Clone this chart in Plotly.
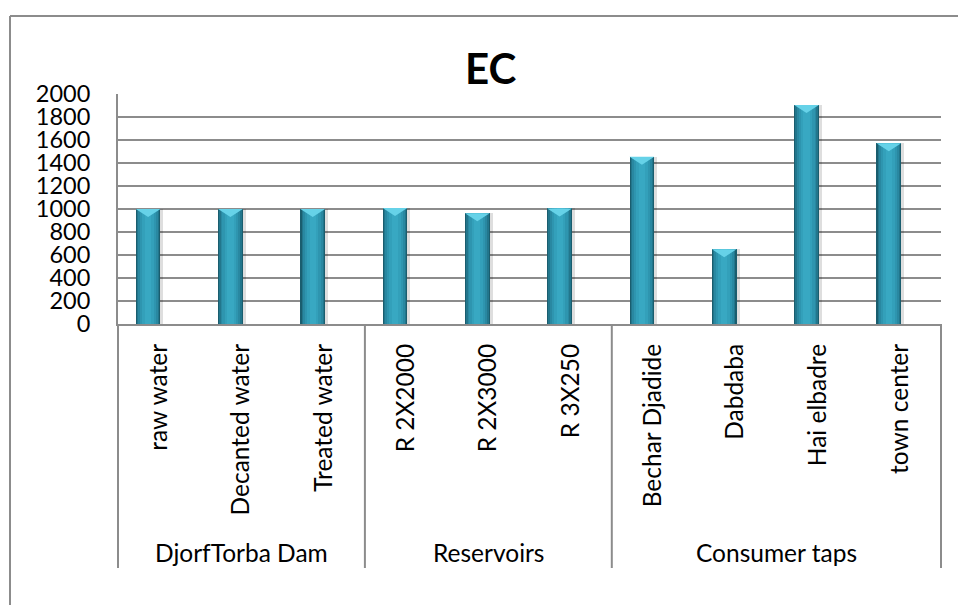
import numpy as np
import plotly.graph_objects as go

# ---- data -------------------------------------------------------------
groups = ["DjorfTorba Dam", "Reservoirs", "Consumer taps"]
group_sizes = [3, 3, 4]
categories = ["raw water", "Decanted water", "Treated water",
              "R 2X2000", "R 2X3000", "R 3X250",
              "Bechar Djadide", "Dabdaba", "Hai elbadre", "town center"]
ec_values = [1000, 1000, 1000, 1008, 962, 1005, 1455, 650, 1904, 1571]
y_ticks = list(range(0, 2001, 200))

# ---- layout geometry (pixels) ----------------------------------------
W, H = 958, 605
PL, PR, PT, PB = 118, 941, 94, 324          # plot area edges
FONT = "Lato"
GRID = "#8c8c8c"
LABEL_SIZE = 24.5


def px_x(px):
    return (px - PL) / (PR - PL)


def px_y(py):
    return (PB - py) / (PB - PT)


n = len(categories)
xc = np.arange(n) + 0.5
BAR_W = 0.30
SHIFT = 0.134                     # bars sit slightly left of the slot centre
Y_MAX = 2000
px_per_unit = (PB - PT) / Y_MAX

fig = go.Figure()

# soft drop shadow
fig.add_trace(go.Bar(
    x=xc, y=[v + 3 / px_per_unit for v in ec_values],
    base=-3 / px_per_unit, width=BAR_W,
    offset=-BAR_W / 2 - SHIFT + 3 / (PR - PL) * n,
    marker=dict(color="rgba(0,0,0,0.13)", line_width=0),
    hoverinfo="skip", showlegend=False))

# cylinder-like horizontal shading built from nested bars
shades = [(0.300, "#1a5d6e"), (0.272, "#22768c"), (0.238, "#2988a1"),
          (0.195, "#2e95af"), (0.140, "#33a0ba"), (0.075, "#38a8c2")]
for w, col in shades:
    fig.add_trace(go.Bar(
        x=xc, y=ec_values, width=w, offset=-w / 2 - SHIFT,
        marker=dict(color=col, line_width=0),
        hoverinfo="skip", showlegend=False))

# bevelled top: light triangle hanging from each bar's top edge
depth = 8 / px_per_unit
tx, ty = [], []
for c, v in zip(xc, ec_values):
    left, right = c - SHIFT - BAR_W / 2, c - SHIFT + BAR_W / 2
    tx += [left, right, c - SHIFT, left, None]
    ty += [v, v, v - depth, v, None]
fig.add_trace(go.Scatter(
    x=tx, y=ty, mode="lines", fill="toself", fillcolor="#66d2e8",
    line=dict(width=0), hoverinfo="skip", showlegend=False))

# ---- group separators and labels under the category axis -------------
edges = np.concatenate([[0], np.cumsum(group_sizes)])
sep_bottom = px_y(568)
shapes = []
for e in edges:
    shapes.append(dict(type="line", xref="x domain", yref="paper",
                       x0=e / n, x1=e / n, y0=0, y1=sep_bottom,
                       line=dict(color=GRID, width=2)))
# chart-area frame (left and top edges)
shapes.append(dict(type="line", xref="paper", yref="paper",
                   x0=px_x(10), x1=px_x(10), y0=px_y(16), y1=px_y(H + 5),
                   line=dict(color=GRID, width=2)))
shapes.append(dict(type="line", xref="paper", yref="paper",
                   x0=px_x(10), x1=px_x(W + 5), y0=px_y(16), y1=px_y(16),
                   line=dict(color=GRID, width=2)))

annotations = []
for g, a, b in zip(groups, edges[:-1], edges[1:]):
    annotations.append(dict(
        text=g, xref="x domain", yref="paper",
        x=(a + b) / 2 / n, y=px_y(552), xanchor="center", yanchor="middle",
        showarrow=False, font=dict(family=FONT, size=LABEL_SIZE, color="black")))

annotations.append(dict(
    text="<b>EC</b>", xref="paper", yref="paper",
    x=px_x(490), y=px_y(68), xanchor="center", yanchor="middle",
    showarrow=False, font=dict(family=FONT, size=42, color="black")))

fig.update_layout(
    width=W, height=H,
    margin=dict(l=PL, r=W - PR, t=PT, b=H - PB, pad=0),
    paper_bgcolor="white", plot_bgcolor="white",
    barmode="overlay", bargap=0,
    shapes=shapes, annotations=annotations,
    font=dict(family=FONT, color="black"),
    xaxis=dict(range=[0, n], tickmode="array", tickvals=xc,
               ticktext=categories, tickangle=-90,
               tickfont=dict(family=FONT, size=LABEL_SIZE, color="black"),
               showgrid=False, zeroline=False, showline=True,
               linecolor=GRID, linewidth=2, ticks="",
               ticklabelstandoff=8, fixedrange=True),
    yaxis=dict(range=[0, Y_MAX], tickmode="array", tickvals=y_ticks,
               tickfont=dict(family=FONT, size=23.5, color="black"),
               showgrid=True, gridcolor=GRID, gridwidth=2,
               zeroline=False, showline=True, linecolor=GRID, linewidth=2,
               ticks="", ticklabelstandoff=21, fixedrange=True),
)

fig.write_html("out.html")
